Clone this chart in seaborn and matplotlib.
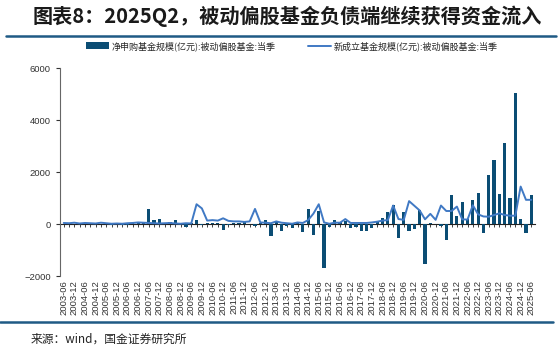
import numpy as np
import pandas as pd
import matplotlib
matplotlib.use('Agg')
import matplotlib.pyplot as plt
import seaborn as sns

# quarterly data, 2003-06 .. 2025-06
quarters = [f"{y}-{m:02d}" for y in range(2003, 2026) for m in (3, 6, 9, 12)]
quarters = quarters[1:quarters.index('2025-06') + 1]

# 净申购基金规模(亿元):被动偏股基金:当季
net_sub = [10, 20, 15, 30, 10, 20, 30, 15, 30, -20, 20, -50, -50, 30, 50, 60,
           560, 135, 200, 40, 90, 140, 30, -120, 20, 140, -30, 40, 30, 20, -240, -40,
           20, 30, 130, 10, -60, 20, 150, -450, 100, -280, -90, -150, 40, -320, 560, -420,
           490, -1680, -100, 150, 60, 100, -170, -130, -280, -260, -150, 90, 250, 460, 720, -540,
           480, -270, -180, 530, -1550, 40, 10, -60, -600, 1100, 310, 835, 180, 920, 1200, -330,
           1900, 2460, 1140, 3110, 1000, 5040, 180, -360, 1110]

# 新成立基金规模(亿元):被动偏股基金:当季
new_fund = [40, 30, 50, 20, 40, 30, 20, 50, 30, 10, 20, 10, 30, 40, 60, 50,
            40, 30, 20, 30, 40, 20, 10, 30, 20, 760, 600, 130, 150, 130, 220, 120,
            100, 100, 80, 100, 580, 60, 50, 30, 100, 50, 30, 10, 60, 40, 150, 400,
            760, 60, 10, 50, 50, 190, 40, 40, 40, 40, 60, 90, 130, 150, 710, 190,
            160, 880, 700, 520, 180, 390, 160, 710, 500, 500, 670, 180, 170, 720, 370, 290,
            280, 345, 410, 345, 320, 320, 1440, 930, 930]

bar_label = '净申购基金规模(亿元):被动偏股基金:当季'
line_label = '新成立基金规模(亿元):被动偏股基金:当季'

df = pd.DataFrame({'quarter': quarters, 'net': net_sub, 'new': new_fund})
df['pos'] = np.arange(len(df))

sns.set_style('white')
plt.rcParams['font.family'] = ['Liberation Sans', 'Noto Sans CJK SC', 'DejaVu Sans']
cjk = ['Noto Sans CJK SC', 'DejaVu Sans']

bar_color = '#0b4d74'
line_color = '#4079c4'

fig = plt.figure(figsize=(5.59, 3.53), dpi=100)
ax = fig.add_axes([60 / 559, 1 - 276 / 353, 475 / 559, 208 / 353])

sns.barplot(data=df, x='pos', y='net', native_scale=True, color=bar_color,
            width=0.6, saturation=1, linewidth=0, ax=ax, label=bar_label)
sns.lineplot(data=df, x='pos', y='new', color=line_color, linewidth=1.4,
             ax=ax, label=line_label, sort=False)

ax.set_xlim(-0.7, len(df) - 0.3)
ax.set_ylim(-2000, 6000)
ax.set_yticks([-2000, 0, 2000, 4000, 6000])
ax.set_xticks(df['pos'][::2])
ax.set_xticklabels(df['quarter'][::2], rotation=90, fontsize=6.8, color='#333333')
ax.tick_params(axis='x', length=0, pad=3)
ax.tick_params(axis='y', labelsize=6.8, colors='#333333', length=3, width=0.8,
               direction='out', left=True)
ax.set_xlabel('')
ax.set_ylabel('')

for s in ['top', 'right', 'bottom']:
    ax.spines[s].set_visible(False)
ax.spines['left'].set_color('#666666')
ax.spines['left'].set_linewidth(0.8)

# zero line with quarter ticks
zero_ax = ax.secondary_xaxis(0.25)
zero_ax.set_xticks(df['pos'])
zero_ax.set_xticklabels([])
zero_ax.tick_params(length=2, width=0.6, color='#222222', direction='out')
zero_ax.spines['bottom'].set_color('#222222')
zero_ax.spines['bottom'].set_linewidth(0.8)

ax.get_legend().remove()
handles, labels = ax.get_legend_handles_labels()
order = [labels.index(bar_label), labels.index(line_label)]
fig.legend([handles[i] for i in order], [labels[i] for i in order], loc='center',
           bbox_to_anchor=(0.522, 0.87), ncol=2, frameon=False,
           prop={'family': cjk, 'size': 6.5}, columnspacing=3.5,
           handlelength=2.6, handletextpad=0.3)

fig.text(0.058, 0.955, '图表8：2025Q2，被动偏股基金负债端继续获得资金流入',
         fontsize=14.5, fontweight='bold', fontstyle='italic', family=cjk,
         color='#1a1a1a', va='center', ha='left')
fig.add_artist(plt.Line2D([0.01, 0.995], [0.898, 0.898], color='#1f5a85', linewidth=1.8))
fig.add_artist(plt.Line2D([0.0, 0.99], [1 - 322 / 353, 1 - 322 / 353], color='#1f5a85',
                          linewidth=1.8))
fig.text(0.054, 1 - 339 / 353, '来源：wind，国金证券研究所', fontsize=8.5, family=cjk,
         color='#222222', va='center', ha='left')

fig.savefig('out.png', dpi=100)
